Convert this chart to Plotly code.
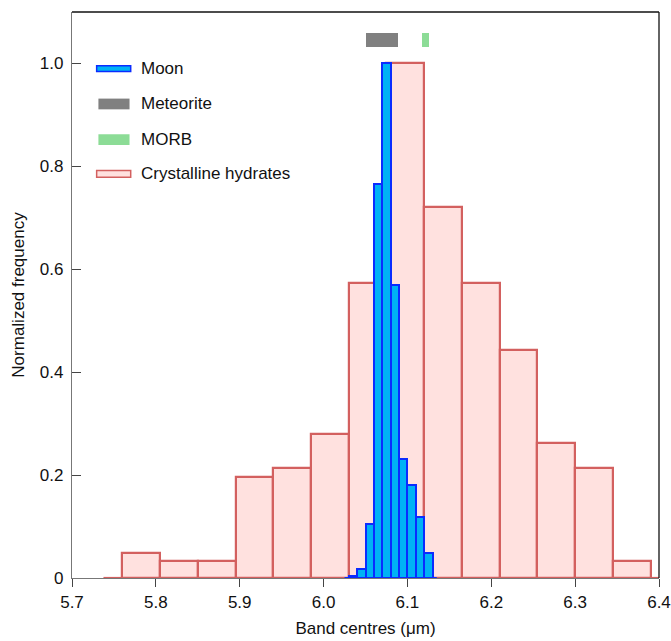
import numpy as np
import plotly.graph_objects as go

# Crystalline hydrates: bin edges (um) and normalized frequency per bin
hydrate_edges = [5.76, 5.805, 5.85, 5.895, 5.94, 5.985, 6.03, 6.075, 6.12,
                 6.165, 6.21, 6.255, 6.30, 6.345, 6.39]
hydrate_freq = [0.049, 0.033, 0.033, 0.197, 0.213, 0.279, 0.574, 1.0,
                0.721, 0.574, 0.443, 0.262, 0.213, 0.033]

# Moon: bin edges (um) and normalized frequency per bin
moon_edges = [6.03, 6.04, 6.05, 6.06, 6.07, 6.08, 6.09, 6.10, 6.11, 6.12, 6.13]
moon_freq = [0.004, 0.017, 0.105, 0.766, 1.0, 0.569, 0.232, 0.181, 0.118, 0.048]

# Reference ranges shown as bars above the histograms
meteorite_range = [6.051, 6.089]
morb_range = [6.117, 6.126]
marker_band = [1.032, 1.060]

x_ticks = [5.7, 5.8, 5.9, 6.0, 6.1, 6.2, 6.3, 6.4]
y_ticks = [0, 0.2, 0.4, 0.6, 0.8, 1.0]
y_ticktext = ["0", "0.2", "0.4", "0.6", "0.8", "1.0"]

MOON_FILL = "#00b2f5"
MOON_LINE = "#0a2cff"
HYD_FILL = "#ffe1df"
HYD_LINE = "#d3605f"
MET_COLOR = "#808080"
MORB_COLOR = "#8cdc96"
FONT = "Liberation Sans, Arial, Helvetica, sans-serif"


def bar_geometry(edges):
    e = np.asarray(edges, dtype=float)
    return (e[:-1] + e[1:]) / 2, np.diff(e)


def zero_tails(edges):
    # flat zero-level segments, half a bin wide, at both ends of the outline
    half = (edges[1] - edges[0]) / 2
    xs = [edges[0] - half, edges[0], None, edges[-1], edges[-1] + half]
    ys = [0, 0, None, 0, 0]
    return xs, ys


fig = go.Figure()

hx, hw = bar_geometry(hydrate_edges)
fig.add_trace(go.Bar(
    x=hx, y=hydrate_freq, width=hw, name="Crystalline hydrates",
    marker=dict(color=HYD_FILL, line=dict(color=HYD_LINE, width=2.2)),
    showlegend=False,
))
tx, ty = zero_tails(hydrate_edges)
fig.add_trace(go.Scatter(x=tx, y=ty, mode="lines", line=dict(color=HYD_LINE, width=2.2),
                         showlegend=False, hoverinfo="skip"))

mx, mw = bar_geometry(moon_edges)
fig.add_trace(go.Bar(
    x=mx, y=moon_freq, width=mw, name="Moon",
    marker=dict(color=MOON_FILL, line=dict(color=MOON_LINE, width=2)),
    showlegend=False,
))
tx, ty = zero_tails(moon_edges)
fig.add_trace(go.Scatter(x=tx, y=ty, mode="lines", line=dict(color=MOON_LINE, width=2),
                         showlegend=False, hoverinfo="skip"))

for rng, col, nm in [(meteorite_range, MET_COLOR, "Meteorite"),
                     (morb_range, MORB_COLOR, "MORB")]:
    fig.add_trace(go.Bar(
        x=[(rng[0] + rng[1]) / 2], y=[marker_band[1] - marker_band[0]],
        base=[marker_band[0]], width=[rng[1] - rng[0]], name=nm,
        marker=dict(color=col, line=dict(width=0)), showlegend=False,
    ))

# Hand-drawn legend: wide flat swatches with labels
legend_items = [
    ("Moon", MOON_FILL, MOON_LINE, 0.905, 0.895),
    ("Meteorite", MET_COLOR, None, 0.847, 0.828),
    ("MORB", MORB_COLOR, None, 0.784, 0.765),
    ("Crystalline hydrates", HYD_FILL, HYD_LINE, 0.720, 0.708),
]
label_y = [0.8993, 0.8392, 0.7756, 0.7155]
shapes = []
annotations = []
for (label, fill, line, y1, y0), ly in zip(legend_items, label_y):
    if line:
        x0, x1 = 0.042, 0.100
        ln = dict(color=line, width=1.5)
    else:
        x0, x1 = 0.045, 0.098
        ln = dict(width=0)
    shapes.append(dict(type="rect", xref="paper", yref="paper", x0=x0, x1=x1,
                       y0=y0, y1=y1, fillcolor=fill, line=ln, layer="above"))
    annotations.append(dict(text=label, xref="paper", yref="paper", x=0.114, y=ly,
                            xanchor="left", yanchor="middle", showarrow=False,
                            font=dict(size=17, color="#111", family=FONT)))

# top and right frame lines
shapes.append(dict(type="line", xref="paper", yref="paper", x0=0, x1=1, y0=1, y1=1,
                   line=dict(color="#111", width=1.3), layer="above"))
shapes.append(dict(type="line", xref="paper", yref="paper", x0=1, x1=1, y0=0, y1=1,
                   line=dict(color="#111", width=1.3), layer="above"))

fig.update_layout(
    width=671, height=641,
    margin=dict(l=72, r=12, t=12, b=63, autoexpand=False),
    barmode="overlay",
    bargap=0,
    plot_bgcolor="white",
    paper_bgcolor="white",
    font=dict(family=FONT, size=17, color="#111"),
    shapes=shapes,
    annotations=annotations,
    xaxis=dict(
        range=[5.7, 6.4], tickvals=x_ticks, ticktext=[f"{v:.1f}" for v in x_ticks],
        ticks="outside", ticklen=8, tickcolor="#444", tickwidth=1.2,
        showline=True, linecolor="#777", linewidth=1.3, showgrid=False, zeroline=False,
        tickfont=dict(size=17), automargin=False,
        title=dict(text="Band centres (μm)", font=dict(size=17), standoff=11),
    ),
    yaxis=dict(
        range=[0, 1.1], tickvals=y_ticks, ticktext=y_ticktext,
        ticks="inside", ticklen=9, tickcolor="#444", tickwidth=1.2,
        showline=True, linecolor="#777", linewidth=1.3, showgrid=False, zeroline=False,
        tickfont=dict(size=17), ticklabelstandoff=4, automargin=False,
        title=dict(text="Normalized frequency", font=dict(size=17), standoff=10),
    ),
)

fig.write_html("out.html")
